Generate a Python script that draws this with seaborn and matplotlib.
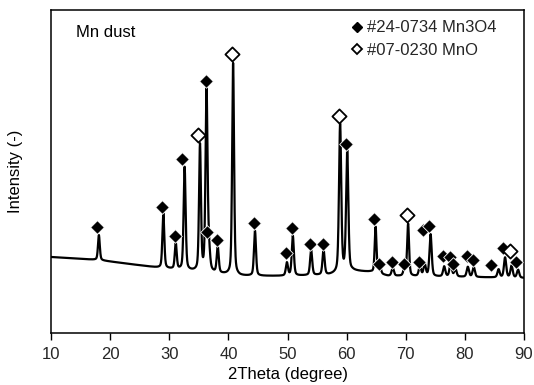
import numpy as np
import pandas as pd
import matplotlib
matplotlib.use("Agg")
import matplotlib.pyplot as plt
import seaborn as sns
from matplotlib.lines import Line2D

# ---- data (intensity in arbitrary units) ----
baseline_2theta = [10, 18, 28.5, 35, 42, 50, 57, 61, 64, 67, 80, 90]
baseline_counts = [76, 73, 65, 61, 57, 57, 58, 62, 61, 57, 56, 55]

peak_2theta = [18.1, 29.0, 31.1, 32.6, 35.2, 36.3, 36.7, 38.2, 40.8, 44.5,
               49.9, 50.9, 54.0, 56.1, 58.9, 60.1, 64.9, 65.6, 67.8, 69.8,
               70.4, 72.4, 73.2, 74.2, 76.5, 77.6, 78.4, 80.5, 81.5, 85.7,
               86.8, 87.9, 89.0]
peak_height = [25, 55, 26, 103, 126, 183, 20, 26, 212, 45,
               13, 40, 25, 25, 148, 120, 46, 8, 8, 8,
               52, 10, 12, 42, 10, 14, 8, 10, 10, 8,
               20, 12, 8]
peak_fwhm = [0.36, 0.38, 0.38, 0.40, 0.38, 0.40, 0.45, 0.40, 0.38, 0.40,
             0.42, 0.42, 0.42, 0.42, 0.44, 0.44, 0.36, 0.45, 0.45, 0.45,
             0.38, 0.45, 0.45, 0.44, 0.45, 0.45, 0.45, 0.45, 0.45, 0.45,
             0.45, 0.45, 0.45]

mn3o4_2theta = [17.8, 28.8, 31.0, 32.2, 36.2, 36.4, 38.1, 44.4, 49.8, 50.8,
                53.8, 56.0, 59.9, 64.7, 65.4, 67.7, 69.7, 72.3, 73.0, 74.0,
                76.3, 77.5, 78.0, 80.4, 81.3, 84.4, 86.5, 88.7]
mn3o4_counts = [106, 126, 97, 174, 252, 101, 93, 110, 80, 105,
                89, 89, 189, 114, 69, 71, 69, 71, 103, 107,
                77, 76, 69, 77, 73, 68, 85, 71]

mno_2theta = [34.9, 40.6, 58.7, 70.2, 87.7]
mno_counts = [198, 279, 217, 118, 82]

legend_labels = ["#24-0734 Mn3O4", "#07-0230 MnO"]
sample_label = "Mn dust"

# ---- build the scan trace from the read peak list ----
tt = np.arange(10, 90.001, 0.02)
counts = np.interp(tt, baseline_2theta, baseline_counts)
eta = 0.4
for p, h, w in zip(peak_2theta, peak_height, peak_fwhm):
    g = np.exp(-4 * np.log(2) * ((tt - p) / w) ** 2)
    l = 1.0 / (1.0 + 4 * ((tt - p) / w) ** 2)
    counts = counts + h * ((1 - eta) * g + eta * l)
scan = pd.DataFrame({"2theta": tt, "counts": counts})
df_a = pd.DataFrame({"2theta": mn3o4_2theta, "counts": mn3o4_counts})
df_b = pd.DataFrame({"2theta": mno_2theta, "counts": mno_counts})

sns.set_theme(style="white")
plt.rcParams["font.family"] = ["Liberation Sans", "DejaVu Sans"]

fig = plt.figure(figsize=(5.34, 3.85), dpi=100)
ax = fig.add_axes([51 / 534, (385 - 333) / 385, 473 / 534, 323 / 385])

sns.lineplot(data=scan, x="2theta", y="counts", ax=ax, color="black",
             linewidth=1.6, estimator=None, sort=False)
ms = 48
sns.scatterplot(data=df_a, x="2theta", y="counts", ax=ax, marker="D", s=ms,
                color="black", edgecolor="white", linewidth=0.6, zorder=5)
sns.scatterplot(data=df_b, x="2theta", y="counts", ax=ax, marker="D", s=52,
                color="white", edgecolor="black", linewidth=1.3, zorder=6)

ax.set_xlim(10, 90)
ax.set_ylim(0, 323)
ax.set_xticks(range(10, 91, 10))
ax.set_yticks([])
ax.tick_params(axis="x", direction="out", length=5, width=1, color="black",
               labelsize=12, pad=5, bottom=True)
for s in ax.spines.values():
    s.set_color("black")
    s.set_linewidth(1.1)
ax.set_xlabel("2Theta (degree)", fontsize=12, color="black", labelpad=4)
ax.set_ylabel("Intensity (-)", fontsize=12, color="black", labelpad=20)

ax.text(0.053, 0.929, sample_label, transform=ax.transAxes, fontsize=12,
        va="center", ha="left", color="black")

handles = [
    Line2D([], [], linestyle="none", marker="D", markersize=5,
           markerfacecolor="black", markeredgecolor="black"),
    Line2D([], [], linestyle="none", marker="D", markersize=5.5,
           markerfacecolor="white", markeredgecolor="black", markeredgewidth=1.3),
]
ax.legend(handles, legend_labels, loc="upper left",
          bbox_to_anchor=(0.636, 0.968), frameon=False, fontsize=12,
          handlelength=0.6, handletextpad=0.3, labelspacing=0.45,
          borderpad=0, borderaxespad=0)

fig.savefig("out.png", dpi=100)
